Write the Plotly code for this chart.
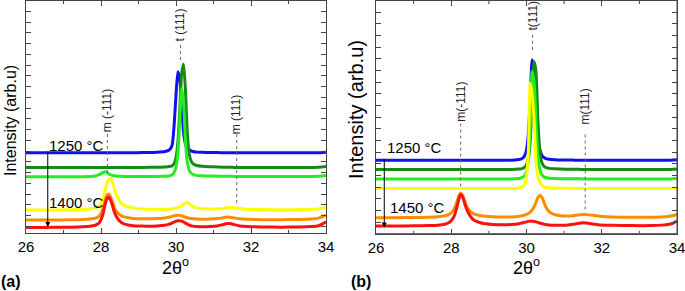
import plotly.graph_objects as go

W, H = 685, 291

# ---------------- Panel (a) data ----------------
xa = [26.0, 26.5, 27.0, 27.4, 27.7, 27.85, 27.95, 28.05, 28.1, 28.15, 28.2, 28.25, 28.3, 28.35,
      28.4, 28.5, 28.6, 28.8, 29.1, 29.5, 29.7, 29.8, 29.85, 29.9, 29.95, 30.0, 30.05, 30.1,
      30.15, 30.2, 30.25, 30.3, 30.35, 30.4, 30.45, 30.55, 30.7, 30.9, 31.1, 31.25, 31.35,
      31.45, 31.55, 31.7, 31.9, 32.3, 32.8, 33.3, 33.6, 33.8, 33.9, 34.0]

a_blue = [3.92, 3.92, 3.92, 3.92, 3.92, 3.92, 3.92, 3.92, 3.92, 3.92, 3.92, 3.92, 3.92, 3.92,
          3.92, 3.92, 3.92, 3.92, 3.93, 3.95, 3.98, 4.03, 4.10, 4.30, 5.20, 6.60, 7.69, 7.35,
          6.30, 4.90, 4.35, 4.15, 4.06, 4.01, 3.98, 3.95, 3.94, 3.93, 3.93, 3.92, 3.92,
          3.92, 3.92, 3.92, 3.92, 3.92, 3.92, 3.92, 3.92, 3.92, 3.93, 3.94]
a_dgreen = [3.24, 3.24, 3.24, 3.24, 3.24, 3.24, 3.24, 3.24, 3.24, 3.24, 3.24, 3.24, 3.24, 3.24,
            3.24, 3.24, 3.24, 3.24, 3.24, 3.25, 3.26, 3.28, 3.29, 3.32, 3.42, 3.70, 4.40, 5.90,
            7.60, 8.05, 6.90, 4.90, 3.90, 3.55, 3.42, 3.33, 3.29, 3.27, 3.26, 3.25, 3.25,
            3.25, 3.24, 3.24, 3.24, 3.24, 3.24, 3.24, 3.24, 3.25, 3.26, 3.28]
a_lgreen = [2.81, 2.81, 2.81, 2.81, 2.82, 2.84, 2.90, 3.00, 3.04, 3.01, 2.95, 2.90, 2.87, 2.85,
            2.84, 2.83, 2.82, 2.82, 2.82, 2.82, 2.83, 2.84, 2.86, 2.90, 3.00, 3.25, 3.90, 5.40,
            6.90, 6.30, 4.50, 3.50, 3.12, 2.98, 2.92, 2.87, 2.85, 2.84, 2.83, 2.83, 2.83,
            2.83, 2.82, 2.82, 2.82, 2.82, 2.82, 2.82, 2.82, 2.83, 2.84, 2.86]
a_yellow = [1.26, 1.26, 1.27, 1.28, 1.31, 1.36, 1.45, 1.75, 2.10, 2.45, 2.68, 2.73, 2.60, 2.30,
            2.00, 1.65, 1.48, 1.37, 1.31, 1.29, 1.29, 1.30, 1.31, 1.32, 1.33, 1.35, 1.37, 1.41,
            1.46, 1.53, 1.59, 1.61, 1.57, 1.49, 1.42, 1.36, 1.32, 1.31, 1.31, 1.33, 1.36,
            1.38, 1.37, 1.33, 1.30, 1.28, 1.27, 1.28, 1.29, 1.31, 1.34, 1.40]
a_orange = [0.79, 0.79, 0.80, 0.81, 0.84, 0.88, 0.97, 1.30, 1.65, 1.92, 2.00, 1.90, 1.65, 1.40,
            1.22, 1.04, 0.95, 0.88, 0.85, 0.86, 0.89, 0.92, 0.94, 0.97, 0.99, 1.01, 1.02, 1.01,
            0.99, 0.96, 0.93, 0.90, 0.88, 0.86, 0.85, 0.84, 0.83, 0.84, 0.86, 0.90, 0.93,
            0.92, 0.89, 0.85, 0.83, 0.81, 0.81, 0.82, 0.84, 0.88, 0.94, 1.02]
a_red = [0.45, 0.45, 0.46, 0.47, 0.50, 0.55, 0.65, 1.05, 1.45, 1.76, 1.86, 1.75, 1.50, 1.20,
         0.98, 0.74, 0.62, 0.54, 0.51, 0.52, 0.55, 0.59, 0.62, 0.66, 0.70, 0.74, 0.76, 0.76,
         0.74, 0.70, 0.65, 0.60, 0.56, 0.53, 0.51, 0.49, 0.48, 0.49, 0.52, 0.58, 0.63,
         0.63, 0.58, 0.52, 0.49, 0.47, 0.46, 0.47, 0.49, 0.53, 0.60, 0.71]

# ---------------- Panel (b) data ----------------
xb = [26.0, 26.5, 27.0, 27.4, 27.7, 27.85, 27.95, 28.05, 28.1, 28.15, 28.2, 28.25, 28.3, 28.35,
      28.4, 28.5, 28.6, 28.8, 29.1, 29.5, 29.7, 29.8, 29.85, 29.9, 29.95, 30.0, 30.05, 30.1,
      30.15, 30.2, 30.25, 30.3, 30.35, 30.4, 30.45, 30.5, 30.6, 30.75, 30.9, 31.1, 31.3,
      31.4, 31.5, 31.6, 31.75, 31.95, 32.3, 32.8, 33.3, 33.6, 33.8, 33.9, 34.0]

b_blue = [3.16, 3.16, 3.16, 3.16, 3.16, 3.16, 3.16, 3.16, 3.16, 3.16, 3.16, 3.16, 3.16, 3.16,
          3.16, 3.16, 3.16, 3.16, 3.16, 3.16, 3.17, 3.19, 3.21, 3.25, 3.35, 3.60, 4.30, 5.80,
          7.46, 7.00, 5.60, 4.20, 3.65, 3.40, 3.29, 3.24, 3.20, 3.18, 3.17, 3.17, 3.16,
          3.16, 3.16, 3.16, 3.16, 3.16, 3.16, 3.16, 3.16, 3.16, 3.16, 3.17, 3.18]
b_dgreen = [2.76, 2.76, 2.76, 2.76, 2.76, 2.76, 2.76, 2.76, 2.76, 2.76, 2.76, 2.76, 2.76, 2.76,
            2.76, 2.76, 2.76, 2.76, 2.76, 2.76, 2.77, 2.78, 2.79, 2.81, 2.86, 2.97, 3.25, 4.00,
            5.70, 7.39, 7.00, 5.00, 3.60, 3.10, 2.93, 2.86, 2.81, 2.79, 2.78, 2.77, 2.77,
            2.77, 2.76, 2.76, 2.76, 2.76, 2.76, 2.76, 2.76, 2.76, 2.76, 2.77, 2.78]
b_lgreen = [2.36, 2.36, 2.36, 2.36, 2.36, 2.36, 2.36, 2.36, 2.36, 2.36, 2.36, 2.36, 2.36, 2.36,
            2.36, 2.36, 2.36, 2.36, 2.36, 2.36, 2.37, 2.38, 2.40, 2.43, 2.50, 2.68, 3.20, 4.60,
            6.96, 6.50, 4.90, 3.40, 2.80, 2.56, 2.46, 2.42, 2.39, 2.38, 2.37, 2.37, 2.37,
            2.37, 2.36, 2.36, 2.36, 2.36, 2.36, 2.36, 2.36, 2.36, 2.36, 2.37, 2.38]
b_yellow = [1.95, 1.95, 1.95, 1.95, 1.95, 1.95, 1.95, 1.95, 1.95, 1.95, 1.95, 1.95, 1.95, 1.95,
            1.95, 1.95, 1.95, 1.95, 1.95, 1.95, 1.96, 1.97, 1.99, 2.03, 2.12, 2.45, 3.60, 6.47,
            6.00, 4.90, 3.20, 2.50, 2.22, 2.10, 2.04, 2.00, 1.98, 1.97, 1.96, 1.96, 1.95,
            1.95, 1.95, 1.95, 1.95, 1.95, 1.95, 1.95, 1.95, 1.95, 1.95, 1.96, 1.97]
b_orange = [0.70, 0.70, 0.71, 0.72, 0.75, 0.79, 0.85, 1.00, 1.15, 1.38, 1.62, 1.76, 1.68, 1.45,
            1.22, 0.98, 0.86, 0.78, 0.74, 0.73, 0.74, 0.76, 0.77, 0.79, 0.81, 0.84, 0.88, 0.94,
            1.03, 1.16, 1.35, 1.55, 1.65, 1.60, 1.42, 1.20, 0.96, 0.83, 0.78, 0.77, 0.80,
            0.82, 0.84, 0.83, 0.80, 0.76, 0.73, 0.72, 0.72, 0.73, 0.76, 0.79, 0.84]
b_red = [0.34, 0.34, 0.35, 0.36, 0.39, 0.43, 0.50, 0.68, 0.86, 1.15, 1.48, 1.69, 1.60, 1.35,
         1.10, 0.78, 0.60, 0.47, 0.41, 0.40, 0.42, 0.44, 0.46, 0.48, 0.50, 0.52, 0.54, 0.55,
         0.55, 0.54, 0.52, 0.50, 0.47, 0.45, 0.43, 0.41, 0.39, 0.38, 0.38, 0.39, 0.43,
         0.46, 0.48, 0.47, 0.43, 0.39, 0.37, 0.36, 0.36, 0.38, 0.42, 0.47, 0.55]

colors = ["#1010f0", "#168a16", "#22ee22", "#ffff00", "#ff8c00", "#ff1010"]
series_a = [a_blue, a_dgreen, a_lgreen, a_yellow, a_orange, a_red]
series_b = [b_blue, b_dgreen, b_lgreen, b_yellow, b_orange, b_red]

x_ticks = [26, 28, 30, 32, 34]
x_minor_ticks = [27, 29, 31, 33]

FONT = "Liberation Sans, Arial, sans-serif"

fig = go.Figure()
for ys, c in zip(series_a, colors):
    fig.add_trace(go.Scatter(x=xa, y=ys, mode="lines", line=dict(color=c, width=3, shape="spline", smoothing=0.6),
                             xaxis="x", yaxis="y", hoverinfo="skip"))
for ys, c in zip(series_b, colors):
    fig.add_trace(go.Scatter(x=xb, y=ys, mode="lines", line=dict(color=c, width=3, shape="spline", smoothing=0.6),
                             xaxis="x2", yaxis="y2", hoverinfo="skip"))

def px_x(p):
    return p / W

def px_y(p):
    return 1 - p / H

common_x = dict(range=[26, 34], tickvals=x_ticks, ticks="inside", ticklen=5,
                showline=True, linecolor="#444", linewidth=1, mirror="ticks", showgrid=False, zeroline=False,
                tickfont=dict(family=FONT, size=15, color="black"), automargin=False,
                ticklabeloverflow="allow")
common_y = dict(ticks="inside", ticklen=5, dtick=0.5, tick0=0,
                showline=True, linecolor="#444", linewidth=1, mirror="ticks", showgrid=False, zeroline=False,
                showticklabels=False, automargin=False)

fig.update_layout(
    width=W, height=H, margin=dict(l=0, r=0, t=0, b=0, pad=0), autosize=False, showlegend=False,
    paper_bgcolor="white", plot_bgcolor="white",
    font=dict(family=FONT, color="black"),
    xaxis=dict(domain=[px_x(26), px_x(326)], anchor="y", **common_x),
    yaxis=dict(domain=[px_y(233), px_y(1)], anchor="x", range=[0.19, 10.977], **common_y),
    xaxis2=dict(domain=[px_x(376), px_x(677)], anchor="y2", **common_x),
    yaxis2=dict(domain=[px_y(234), px_y(1)], anchor="x2", range=[0, 9.98], **common_y),
)

# minor x ticks (bottom and top, inside)
tick_line = dict(color="#444", width=1)
for xr, yr in [("x", "y"), ("x2", "y2")]:
    for t in x_minor_ticks:
        fig.add_shape(type="line", xref=xr, yref=yr + " domain", x0=t, x1=t, y0=0, y1=0.013, line=tick_line)
        fig.add_shape(type="line", xref=xr, yref=yr + " domain", x0=t, x1=t, y0=0.987, y1=1, line=tick_line)

# right frame edge of panel (b)
fig.add_shape(type="line", xref="x2", yref="y2 domain", x0=34, x1=34, y0=0, y1=1, line=tick_line)

# bottom olive line in panel b
fig.add_shape(type="line", xref="x2", yref="y2", x0=26, x1=34, y0=0, y1=0,
              line=dict(color="#77770a", width=2))

# reference dotted lines
dot = dict(color="#666", width=1, dash="dot")
for (xr, yref_, y0, y1) in [(28.17, "y", 2.98, 4.9), (30.12, "y", 8.23, 8.93), (31.62, "y", 1.58, 4.84),
                            (28.25, "y2", 2.03, 4.77), (30.16, "y2", 7.89, 8.66), (31.56, "y2", 1.05, 4.38)]:
    fig.add_shape(type="line", xref="x" if yref_ == "y" else "x2", yref=yref_, x0=xr, x1=xr, y0=y0, y1=y1, line=dot)

lab_font = dict(family=FONT, size=12, color="#222")
for (txt, xr, yv, xref, yref) in [("m (-111)", 28.17, 5.91, "x", "y"), ("t (111)", 30.12, 9.86, "x", "y"),
                                   ("m (111)", 31.62, 5.7, "x", "y"),
                                   ("m(-111)", 28.25, 5.65, "x2", "y2"), ("t(111)", 30.16, 9.34, "x2", "y2"),
                                   ("m(111)", 31.56, 5.47, "x2", "y2")]:
    fig.add_annotation(text=txt, x=xr, y=yv, xref=xref, yref=yref, textangle=-90, showarrow=False, font=lab_font,
                       xanchor="center", yanchor="middle")

# temperature labels
tfont = dict(family=FONT, size=15, color="black")
for (txt, xv, yv, xref, yref) in [("1250 °C", 26.56, 4.28, "x", "y"), ("1400 °C", 26.56, 1.63, "x", "y"),
                                   ("1250 °C", 26.24, 3.70, "x2", "y2"), ("1450 °C", 26.32, 1.14, "x2", "y2")]:
    fig.add_annotation(text=txt, x=xv, y=yv, xref=xref, yref=yref, xanchor="left", yanchor="middle",
                       showarrow=False, font=tfont)

# arrows
fig.add_annotation(x=26.58, y=0.47, ax=26.58, ay=4.05, xref="x", yref="y", axref="x", ayref="y",
                   showarrow=True, arrowhead=2, arrowsize=1, arrowwidth=1, arrowcolor="black", text="")
fig.add_annotation(x=26.22, y=0.28, ax=26.22, ay=3.27, xref="x2", yref="y2", axref="x2", ayref="y2",
                   showarrow=True, arrowhead=2, arrowsize=1, arrowwidth=1, arrowcolor="black", text="")

def paper_text(txt, xp, yp, size, angle=0, bold=False):
    fig.add_annotation(text=("<b>%s</b>" % txt) if bold else txt, x=px_x(xp), y=px_y(yp),
                       xref="paper", yref="paper", xanchor="center", yanchor="middle",
                       textangle=angle, showarrow=False, font=dict(family=FONT, size=size, color="black"))

# axis titles
paper_text("2θ<sup>o</sup>", 175, 266, 18)
paper_text("2θ<sup>o</sup>", 526, 266, 18)
paper_text("Intensity (arb.u)", 10, 121, 16, angle=-90)
paper_text("Intensity (arb.u)", 356, 110, 20, angle=-90)

# panel letters
paper_text("(a)", 11, 281, 16, bold=True)
paper_text("(b)", 361, 281, 16, bold=True)

post = ("document.documentElement.style.overflow='hidden';"
        "document.body.style.margin='0px';document.body.style.overflow='hidden';"
        "var d=document.querySelector('.plotly-graph-div');"
        "if(d){d.style.position='fixed';d.style.left='0px';d.style.top='0px';}"
        "window.scrollTo(0,0);")
fig.write_html("out.html", config={"displayModeBar": False}, post_script=post)
